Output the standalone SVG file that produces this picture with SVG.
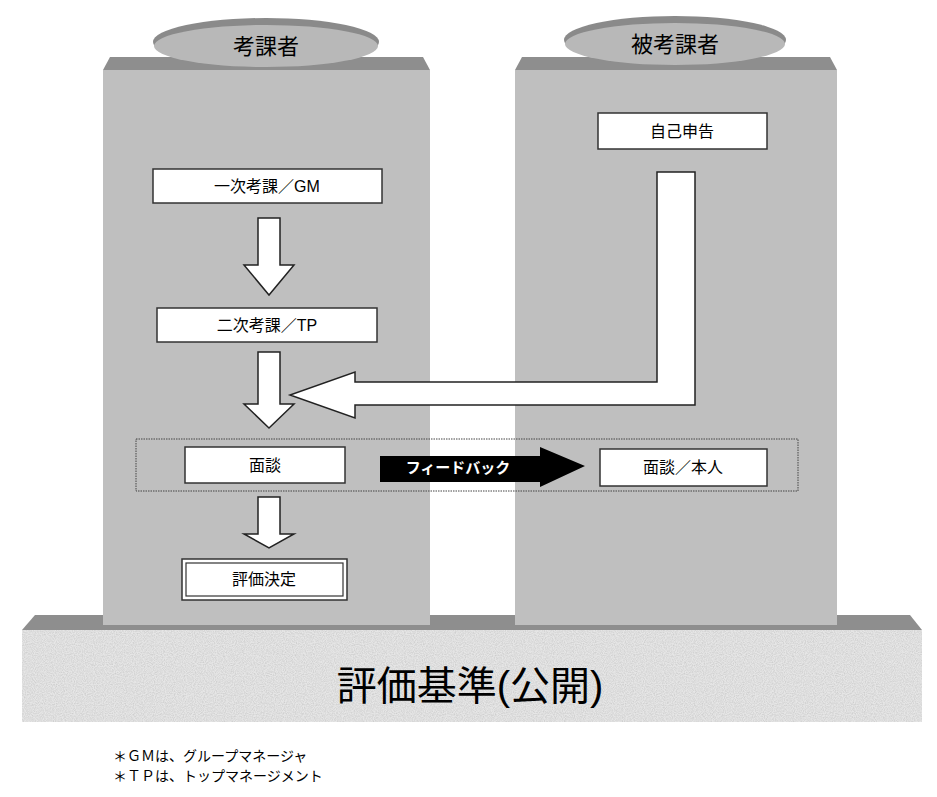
<svg xmlns="http://www.w3.org/2000/svg" width="937" height="797" viewBox="0 0 937 797">
<style>
.t{font-family:"Liberation Sans","Noto Sans CJK JP",sans-serif;fill:#000;text-anchor:middle}
.box{fill:#fff;stroke:#333;stroke-width:1.5}
.wa{fill:#fff;stroke:#222;stroke-width:1.5}
.pil{fill:#bfbfbf}
.top{fill:#8e8e8e}
</style>
<defs>
<filter id="grain" x="0" y="0" width="100%" height="100%">
<feTurbulence type="fractalNoise" baseFrequency="0.9" numOctaves="2" seed="3"/>
<feColorMatrix type="matrix" values="0 0 0 0 0.6  0 0 0 0 0.6  0 0 0 0 0.6  0 0 0 -1.6 1.1"/>
<feComposite in2="SourceGraphic" operator="in"/>
</filter>
</defs>
<rect width="937" height="797" fill="#fff"/>
<g id="base">
<polygon class="top" points="35,615 910,615 922,630 22,630"/>
<rect x="22" y="630" width="900" height="92" fill="#e6e6e6"/>
<rect x="22" y="630" width="900" height="92" fill="#e6e6e6" filter="url(#grain)"/>
<text class="t" x="470" y="700" font-size="40">評価基準(公開)</text>
</g>
<g id="pillar-left">
<polygon class="top" points="110,57 423,57 430,70 103,70"/>
<rect class="pil" x="103" y="70" width="327" height="555"/>
<ellipse cx="266" cy="42" rx="113" ry="24" fill="#8a8a8a"/>
<ellipse cx="266" cy="46" rx="112" ry="21" fill="#b8b8b8"/>
<text class="t" x="266" y="54" font-size="22">考課者</text>
</g>
<g id="pillar-right">
<polygon class="top" points="522,57 830,57 837,70 515,70"/>
<rect class="pil" x="515" y="70" width="322" height="555"/>
<ellipse cx="675" cy="40" rx="111" ry="24" fill="#8a8a8a"/>
<ellipse cx="675" cy="44" rx="110" ry="21" fill="#b8b8b8"/>
<text class="t" x="675" y="52" font-size="22">被考課者</text>
</g>
<rect id="band" x="136" y="439" width="662" height="52" fill="none" stroke="#444" stroke-width="1" stroke-dasharray="1.5,1"/>
<g id="connectors">
<polygon class="wa" points="258,218 280,218 280,265 294,265 269,295 244,265 258,265"/>
<polygon class="wa" points="258,352 280,352 280,404 294,404 269,428 244,404 258,404"/>
<polygon class="wa" points="258,497 280,497 280,534 294,534 269,548 244,534 258,534"/>
<polygon class="wa" points="657,172 695,172 695,405 355,405 355,418 290,395 355,372 355,382 657,382"/>
<polygon points="380,456 540,456 540,447 585,466 540,487 540,482 380,482" fill="#000"/>
<text x="458" y="473" font-size="15" font-weight="bold" fill="#fff" text-anchor="middle" font-family="Liberation Sans,Noto Sans CJK JP,sans-serif">フィードバック</text>
</g>
<g id="n-gm"><rect class="box" x="153" y="169" width="229" height="34"/><text class="t" x="267" y="192" font-size="16">一次考課／GM</text></g>
<g id="n-tp"><rect class="box" x="157" y="308" width="220" height="34"/><text class="t" x="267" y="331" font-size="16">二次考課／TP</text></g>
<g id="n-mendan"><rect class="box" x="185" y="447" width="160" height="36"/><text class="t" x="265" y="471" font-size="16">面談</text></g>
<g id="n-kettei"><rect class="box" x="182" y="559" width="165" height="41"/><rect x="186" y="563" width="157" height="33" fill="none" stroke="#333" stroke-width="1.2"/><text class="t" x="264" y="585" font-size="16">評価決定</text></g>
<g id="n-jiko"><rect class="box" x="598" y="113" width="169" height="36"/><text class="t" x="682" y="137" font-size="16">自己申告</text></g>
<g id="n-honnin"><rect class="box" x="600" y="449" width="167" height="37"/><text class="t" x="683" y="473" font-size="16">面談／本人</text></g>
<g id="notes">
<text x="113" y="761" font-size="14" font-family="Liberation Sans,Noto Sans CJK JP,sans-serif">＊ＧＭは、グループマネージャ</text>
<text x="113" y="781" font-size="14" font-family="Liberation Sans,Noto Sans CJK JP,sans-serif">＊ＴＰは、トップマネージメント</text>
</g>
</svg>
